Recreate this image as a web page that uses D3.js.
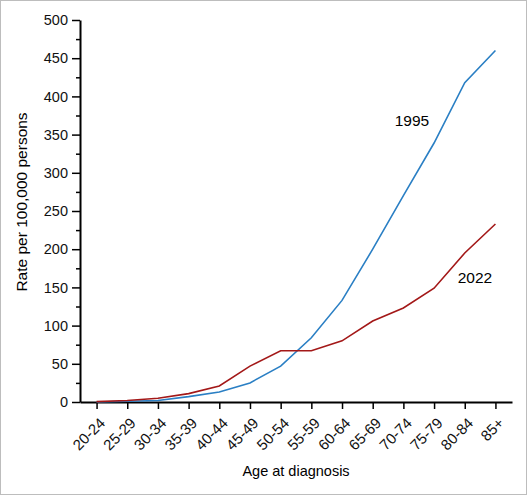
<!DOCTYPE html>
<html>
<head>
<meta charset="utf-8">
<script src="https://cdn.jsdelivr.net/npm/d3@7"></script>
<style>
  body { margin: 0; background: #fff; }
  svg { display: block; font-family: Arial, "Liberation Sans", sans-serif; }
</style>
</head>
<body>
<svg width="527" height="495"></svg>
<script>
var ages = ["20-24", "25-29", "30-34", "35-39", "40-44", "45-49", "50-54",
            "55-59", "60-64", "65-69", "70-74", "75-79", "80-84", "85+"]
var rate1995 = [0, 1, 2, 7, 13, 25, 47, 84, 133, 200, 270, 339, 418, 460]
var rate2022 = [0.5, 2, 5, 11, 21, 47, 67, 67, 80, 106, 123, 149, 195, 233]
var yTicks = [0, 50, 100, 150, 200, 250, 300, 350, 400, 450, 500]

var svg = d3.select("svg")
var font = "Arial, 'Liberation Sans', sans-serif"

// frame round the picture
svg.append("rect")
  .attr("x", 0.5).attr("y", 0.5)
  .attr("width", 526).attr("height", 494)
  .attr("fill", "none")
  .attr("stroke", "#bdbdbd")

var x = d3.scalePoint().domain(ages).range([80, 512]).padding(0.54)
var y = d3.scaleLinear().domain([0, 500]).range([402, 20])

// minor y ticks
svg.append("g")
  .attr("transform", "translate(80,0)")
  .call(d3.axisLeft(y).tickValues(d3.range(25, 500, 50)).tickSize(4).tickFormat(""))
  .call(function (g) { g.select(".domain").remove() })
  .selectAll("line").attr("stroke", "#000").attr("stroke-width", 1.5)

var yAxis = svg.append("g")
  .attr("transform", "translate(80,0)")
  .call(d3.axisLeft(y).tickValues(yTicks).tickSize(8).tickSizeOuter(0).tickPadding(4))
yAxis.select(".domain").attr("stroke-width", 2)
yAxis.selectAll("line").attr("stroke-width", 1.5)
yAxis.selectAll("text").attr("font-size", 14.5).attr("fill", "#111").style("font-family", font)

var xAxis = svg.append("g")
  .attr("transform", "translate(0,402)")
  .call(d3.axisBottom(x).tickSize(7).tickSizeOuter(0))
xAxis.select(".domain").attr("stroke-width", 2)
xAxis.selectAll("line").attr("stroke-width", 1.5)
xAxis.selectAll("text")
  .attr("font-size", 15).attr("fill", "#111")
  .style("font-family", font)
  .attr("text-anchor", "end")
  .attr("y", 0).attr("dy", 0)
  .attr("transform", "translate(9,22) rotate(-45)")

var line = d3.line()
  .x(function (d, i) { return x(ages[i]) })
  .y(function (d) { return y(d) })

svg.append("path")
  .datum(rate1995)
  .attr("d", line)
  .attr("fill", "none")
  .attr("stroke", "#2a7fc4")
  .attr("stroke-width", 1.6)

svg.append("path")
  .datum(rate2022)
  .attr("d", line)
  .attr("fill", "none")
  .attr("stroke", "#a31818")
  .attr("stroke-width", 1.6)

svg.append("text")
  .attr("x", 412).attr("y", 126)
  .attr("text-anchor", "middle")
  .attr("font-size", 15.5)
  .text("1995")

svg.append("text")
  .attr("x", 475).attr("y", 283)
  .attr("text-anchor", "middle")
  .attr("font-size", 15.5)
  .text("2022")

svg.append("text")
  .attr("transform", "translate(27,202) rotate(-90)")
  .attr("text-anchor", "middle")
  .attr("font-size", 15.5)
  .text("Rate per 100,000 persons")

svg.append("text")
  .attr("x", 296).attr("y", 476)
  .attr("text-anchor", "middle")
  .attr("font-size", 14.5)
  .text("Age at diagnosis")
</script>
</body>
</html>
